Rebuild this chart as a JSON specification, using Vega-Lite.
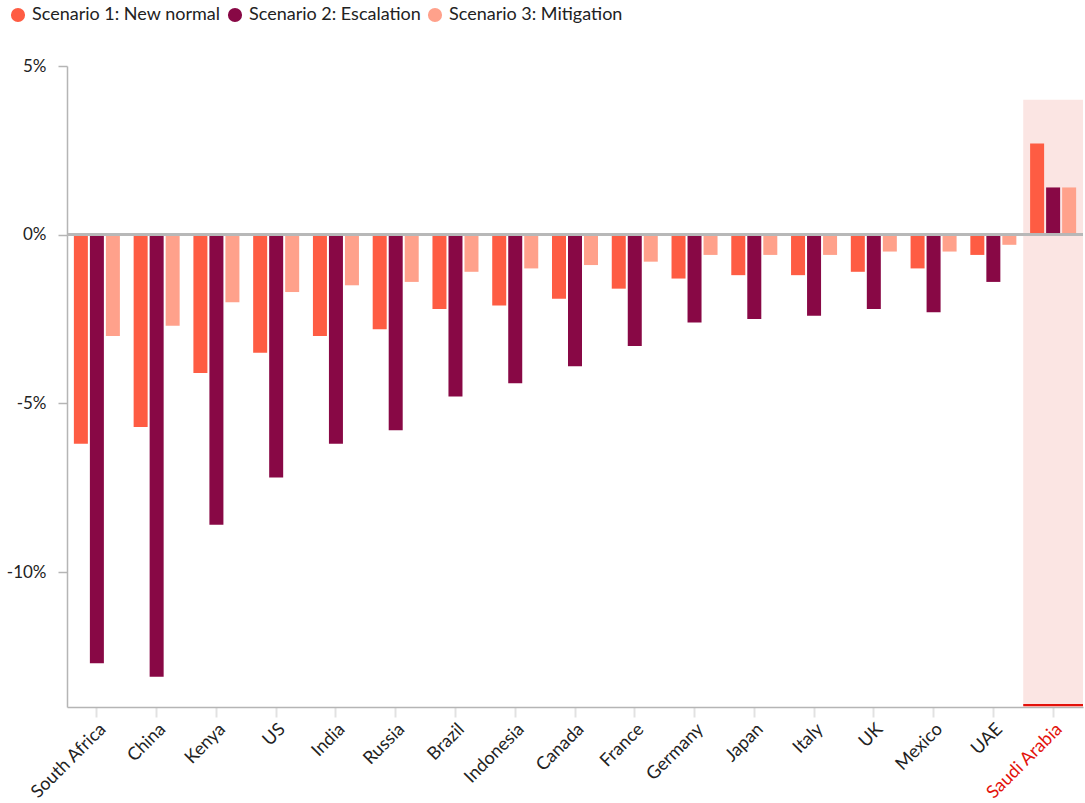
{
  "$schema": "https://vega.github.io/schema/vega-lite/v6.json",
  "width": 1016,
  "height": 641,
  "autosize": {"type": "none"},
  "padding": {"left": 67, "top": 66, "right": 2, "bottom": 96},
  "background": "white",
  "config": {
    "view": {"stroke": null},
    "font": "Lato",
    "axis": {"labelFont": "Lato", "labelColor": "#222222", "grid": false}
  },
  "data": {
    "values": [
      {"country": "South Africa", "scenario": "Scenario 1: New normal", "value": -6.2},
      {"country": "South Africa", "scenario": "Scenario 2: Escalation", "value": -12.7},
      {"country": "South Africa", "scenario": "Scenario 3: Mitigation", "value": -3.0},
      {"country": "China", "scenario": "Scenario 1: New normal", "value": -5.7},
      {"country": "China", "scenario": "Scenario 2: Escalation", "value": -13.1},
      {"country": "China", "scenario": "Scenario 3: Mitigation", "value": -2.7},
      {"country": "Kenya", "scenario": "Scenario 1: New normal", "value": -4.1},
      {"country": "Kenya", "scenario": "Scenario 2: Escalation", "value": -8.6},
      {"country": "Kenya", "scenario": "Scenario 3: Mitigation", "value": -2.0},
      {"country": "US", "scenario": "Scenario 1: New normal", "value": -3.5},
      {"country": "US", "scenario": "Scenario 2: Escalation", "value": -7.2},
      {"country": "US", "scenario": "Scenario 3: Mitigation", "value": -1.7},
      {"country": "India", "scenario": "Scenario 1: New normal", "value": -3.0},
      {"country": "India", "scenario": "Scenario 2: Escalation", "value": -6.2},
      {"country": "India", "scenario": "Scenario 3: Mitigation", "value": -1.5},
      {"country": "Russia", "scenario": "Scenario 1: New normal", "value": -2.8},
      {"country": "Russia", "scenario": "Scenario 2: Escalation", "value": -5.8},
      {"country": "Russia", "scenario": "Scenario 3: Mitigation", "value": -1.4},
      {"country": "Brazil", "scenario": "Scenario 1: New normal", "value": -2.2},
      {"country": "Brazil", "scenario": "Scenario 2: Escalation", "value": -4.8},
      {"country": "Brazil", "scenario": "Scenario 3: Mitigation", "value": -1.1},
      {"country": "Indonesia", "scenario": "Scenario 1: New normal", "value": -2.1},
      {"country": "Indonesia", "scenario": "Scenario 2: Escalation", "value": -4.4},
      {"country": "Indonesia", "scenario": "Scenario 3: Mitigation", "value": -1.0},
      {"country": "Canada", "scenario": "Scenario 1: New normal", "value": -1.9},
      {"country": "Canada", "scenario": "Scenario 2: Escalation", "value": -3.9},
      {"country": "Canada", "scenario": "Scenario 3: Mitigation", "value": -0.9},
      {"country": "France", "scenario": "Scenario 1: New normal", "value": -1.6},
      {"country": "France", "scenario": "Scenario 2: Escalation", "value": -3.3},
      {"country": "France", "scenario": "Scenario 3: Mitigation", "value": -0.8},
      {"country": "Germany", "scenario": "Scenario 1: New normal", "value": -1.3},
      {"country": "Germany", "scenario": "Scenario 2: Escalation", "value": -2.6},
      {"country": "Germany", "scenario": "Scenario 3: Mitigation", "value": -0.6},
      {"country": "Japan", "scenario": "Scenario 1: New normal", "value": -1.2},
      {"country": "Japan", "scenario": "Scenario 2: Escalation", "value": -2.5},
      {"country": "Japan", "scenario": "Scenario 3: Mitigation", "value": -0.6},
      {"country": "Italy", "scenario": "Scenario 1: New normal", "value": -1.2},
      {"country": "Italy", "scenario": "Scenario 2: Escalation", "value": -2.4},
      {"country": "Italy", "scenario": "Scenario 3: Mitigation", "value": -0.6},
      {"country": "UK", "scenario": "Scenario 1: New normal", "value": -1.1},
      {"country": "UK", "scenario": "Scenario 2: Escalation", "value": -2.2},
      {"country": "UK", "scenario": "Scenario 3: Mitigation", "value": -0.5},
      {"country": "Mexico", "scenario": "Scenario 1: New normal", "value": -1.0},
      {"country": "Mexico", "scenario": "Scenario 2: Escalation", "value": -2.3},
      {"country": "Mexico", "scenario": "Scenario 3: Mitigation", "value": -0.5},
      {"country": "UAE", "scenario": "Scenario 1: New normal", "value": -0.6},
      {"country": "UAE", "scenario": "Scenario 2: Escalation", "value": -1.4},
      {"country": "UAE", "scenario": "Scenario 3: Mitigation", "value": -0.3},
      {"country": "Saudi Arabia", "scenario": "Scenario 1: New normal", "value": 2.7},
      {"country": "Saudi Arabia", "scenario": "Scenario 2: Escalation", "value": 1.4},
      {"country": "Saudi Arabia", "scenario": "Scenario 3: Mitigation", "value": 1.4}
    ]
  },
  "layer": [
    {
      "transform": [{"filter": "datum.country === 'Saudi Arabia' && datum.scenario === 'Scenario 1: New normal'"}],
      "mark": {"type": "rect", "color": "#fbe5e3"},
      "encoding": {
        "x": {"field": "country", "type": "nominal", "axis": null,
          "scale": {"domain": ["South Africa","China","Kenya","US","India","Russia","Brazil","Indonesia","Canada","France","Germany","Japan","Italy","UK","Mexico","UAE","Saudi Arabia"], "paddingInner": 0, "paddingOuter": 0}},
        "y": {"datum": 4},
        "y2": {"datum": -14}
      }
    },
    {
      "transform": [{"filter": "datum.country === 'Saudi Arabia' && datum.scenario === 'Scenario 1: New normal'"}],
      "mark": {"type": "rect", "color": "#e3120b"},
      "encoding": {
        "x": {"field": "country", "type": "nominal", "axis": null,
          "scale": {"domain": ["South Africa","China","Kenya","US","India","Russia","Brazil","Indonesia","Canada","France","Germany","Japan","Italy","UK","Mexico","UAE","Saudi Arabia"], "paddingInner": 0, "paddingOuter": 0}},
        "y": {"datum": -13.98},
        "y2": {"datum": -13.91}
      }
    },
    {
      "mark": {"type": "bar"},
      "encoding": {
        "x": {
          "field": "country", "type": "nominal", "title": null,
          "sort": ["South Africa","China","Kenya","US","India","Russia","Brazil","Indonesia","Canada","France","Germany","Japan","Italy","UK","Mexico","UAE","Saudi Arabia"],
          "scale": {"paddingInner": 0.23, "paddingOuter": 0.115},
          "axis": {
            "labelAngle": -45,
            "labelFontSize": 18,
            "labelPadding": 3,
            "labelColor": {"condition": {"test": "datum.value === 'Saudi Arabia'", "value": "#e3120b"}, "value": "#222222"},
            "domainColor": "#b5b5b5",
            "domainWidth": 1.5,
            "tickColor": "#e2e2e2",
            "tickWidth": 2,
            "tickSize": 10
          }
        },
        "xOffset": {
          "field": "scenario", "type": "nominal",
          "scale": {"paddingInner": 0.125, "paddingOuter": 0}
        },
        "y": {
          "field": "value", "type": "quantitative", "title": null,
          "scale": {"domain": [-14, 5], "nice": false, "zero": false},
          "axis": {
            "values": [5, 0, -5, -10],
            "labelExpr": "datum.value + '%'",
            "labelFontSize": 17,
            "labelPadding": 12,
            "domainColor": "#b5b5b5",
            "domainWidth": 1.5,
            "tickColor": "#b5b5b5",
            "tickWidth": 1.5,
            "tickSize": 9
          }
        },
        "color": {
          "field": "scenario", "type": "nominal",
          "scale": {"domain": ["Scenario 1: New normal", "Scenario 2: Escalation", "Scenario 3: Mitigation"], "range": ["#fe5c43", "#880845", "#ffa18b"]},
          "legend": {
            "title": null,
            "orient": "none",
            "legendX": -58,
            "legendY": -60,
            "direction": "horizontal",
            "symbolType": "circle",
            "symbolSize": 200,
            "symbolStrokeWidth": 0,
            "labelFontSize": 18,
            "labelFont": "Lato",
            "labelColor": "#222222",
            "labelLimit": 0,
            "labelOffset": 5,
            "columnPadding": 5,
            "padding": 0
          }
        }
      }
    },
    {
      "mark": {"type": "rule", "color": "#b8b8b8", "strokeWidth": 2},
      "encoding": {"y": {"datum": 0}}
    }
  ],
  "resolve": {"scale": {"x": "independent"}}
}
